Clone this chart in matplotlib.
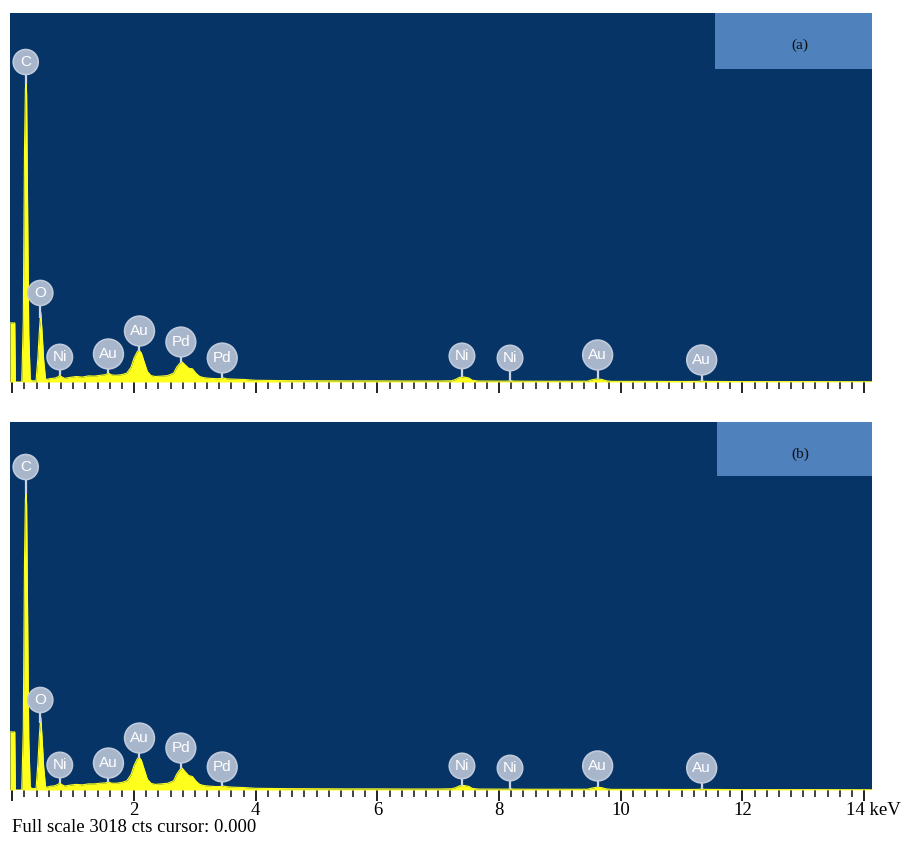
import numpy as np
import matplotlib.pyplot as plt
from matplotlib.ticker import MultipleLocator, FixedLocator
from matplotlib.patches import Rectangle

# EDS spectrum (keV, counts), full scale 3018 cts
energy = [-0.04, 0.04, 0.05, 0.155, 0.18, 0.20, 0.215, 0.225, 0.235, 0.25,
          0.27, 0.295, 0.32, 0.39, 0.42, 0.445, 0.467, 0.49, 0.515, 0.545,
          0.56, 0.62, 0.70, 0.75, 0.78, 0.81, 0.86, 0.95, 1.05, 1.15,
          1.25, 1.35, 1.45, 1.53, 1.58, 1.63, 1.70, 1.80, 1.88, 1.95,
          2.00, 2.05, 2.08, 2.12, 2.17, 2.22, 2.28, 2.35, 2.45, 2.55,
          2.65, 2.70, 2.75, 2.79, 2.84, 2.90, 2.96, 3.02, 3.08, 3.15,
          3.25, 3.35, 3.43, 3.47, 3.52, 3.60, 3.70, 3.80, 3.90, 4.00,
          4.50, 5.00, 5.50, 6.00, 6.50, 7.00, 7.22, 7.28, 7.35, 7.42,
          7.50, 7.56, 7.65, 8.00, 8.15, 8.19, 8.23, 8.50, 9.00, 9.45,
          9.52, 9.60, 9.68, 9.76, 9.85, 10.5, 11.0, 11.28, 11.33, 11.38,
          12.0, 13.0, 14.13]

counts_a = [483, 483, 0, 0, 500, 1900, 2400, 2470, 2350, 1500,
            400, 20, 10, 10, 200, 420, 572, 400, 180, 30,
            20, 28, 32, 42, 55, 42, 30, 38, 45, 40,
            50, 48, 55, 60, 72, 58, 55, 60, 72, 120,
            195, 245, 262, 238, 160, 85, 52, 45, 48, 52,
            72, 120, 152, 164, 140, 112, 108, 70, 45, 35,
            30, 27, 28, 34, 26, 24, 22, 21, 17, 14,
            11, 10, 9, 9, 8, 8, 10, 20, 38, 41,
            33, 14, 8, 7, 7, 12, 7, 6, 6, 6,
            17, 25, 22, 10, 5, 5, 4, 5, 10, 5,
            3, 3, 2]

counts_b = [476, 476, 0, 0, 500, 1880, 2390, 2460, 2340, 1520,
            420, 25, 12, 12, 220, 450, 599, 420, 190, 32,
            22, 30, 35, 46, 57, 45, 32, 40, 46, 42,
            50, 50, 56, 58, 66, 56, 55, 62, 75, 125,
            200, 252, 271, 245, 165, 88, 54, 46, 50, 55,
            75, 128, 165, 180, 150, 118, 110, 72, 46, 36,
            31, 28, 29, 33, 27, 24, 22, 20, 17, 14,
            11, 10, 9, 9, 8, 8, 10, 18, 34, 37,
            30, 13, 8, 7, 7, 11, 7, 6, 6, 6,
            15, 22, 20, 9, 5, 5, 4, 5, 9, 5,
            3, 3, 2]

# peak labels
label_names = ['C', 'O', 'Ni', 'Au', 'Au', 'Pd', 'Pd', 'Ni', 'Ni', 'Au', 'Au']
label_energy = [0.22, 0.46, 0.78, 1.58, 2.09, 2.77, 3.45, 7.39, 8.18, 9.62, 11.33]
label_y_a = [2617, 728, 204, 229, 417, 327, 196, 213, 196, 221, 180]
label_y_b = [2649, 738, 205, 221, 426, 344, 189, 197, 180, 197, 180]

panel_tags = ['(a)', '(b)']
tick_vals = [0, 2, 4, 6, 8, 10, 12, 14]
tick_text = ['', '2', '4', '6', '8', '10', '12', '']

bg = '#073466'
yellow = '#ffff1e'
badge = '#a8b6cc'

fig = plt.figure(figsize=(9.02, 8.5), dpi=100)
ax_a = fig.add_axes([0.0111, 0.5506, 0.9557, 0.4341])
ax_b = fig.add_axes([0.0111, 0.0706, 0.9557, 0.4329])

for ax, counts, lab_y, tag, box in zip([ax_a, ax_b], [counts_a, counts_b],
                                       [label_y_a, label_y_b], panel_tags,
                                       [(0.818, 0.848), (0.820, 0.853)]):
    ax.set_facecolor(bg)
    ax.fill_between(energy, counts, 0, color=yellow, lw=0, zorder=2)
    ax.plot(energy, counts, color=yellow, lw=0.8, zorder=2)
    ax.set_xlim(-0.038, 14.13)
    ax.set_ylim(0, 3018)
    ax.set_yticks([])
    for s in ax.spines.values():
        s.set_visible(False)
    ax.xaxis.set_major_locator(FixedLocator(tick_vals))
    ax.xaxis.set_minor_locator(MultipleLocator(0.2))
    ax.tick_params(axis='x', which='major', length=8, width=1.3, color='#111111',
                   direction='out', pad=1)
    ax.tick_params(axis='x', which='minor', length=5, width=1.1, color='#111111',
                   direction='out')

    # element badges with stems down to the peaks
    for name, e, y in zip(label_names, label_energy, lab_y):
        top = np.interp(e, energy, counts)
        ax.plot([e, e], [top, y], color='#cdd5e4', lw=1.6, zorder=3,
                solid_capstyle='butt')
        ax.text(e, y, name, ha='center', va='center', color='white',
                fontsize=11, family='Liberation Sans', zorder=5,
                bbox=dict(boxstyle='circle,pad=0.36', fc=badge, ec='#bfcadb',
                          lw=1.2))

    ax.add_patch(Rectangle(box, 1 - box[0], 1 - box[1], transform=ax.transAxes,
                           fc='#4f81bd', ec='none', zorder=4))
    ax.text(0.9165, 0.913, tag, transform=ax.transAxes, ha='center', va='center',
            fontsize=11, family='Liberation Serif', color='#111111', zorder=5)

ax_a.set_xticklabels([''] * len(tick_vals))
ax_b.set_xticklabels(tick_text, family='Liberation Serif', fontsize=13.5)

# last tick label with unit, kept inside the figure
fig.text(0.9985, 0.0465, '14 keV', ha='right', va='center', fontsize=13.5,
         family='Liberation Serif')
fig.text(0.0133, 0.026, 'Full scale 3018 cts cursor: 0.000', ha='left',
         va='center', fontsize=13.5, family='Liberation Serif')

fig.savefig('out.png', dpi=100, facecolor='white')
